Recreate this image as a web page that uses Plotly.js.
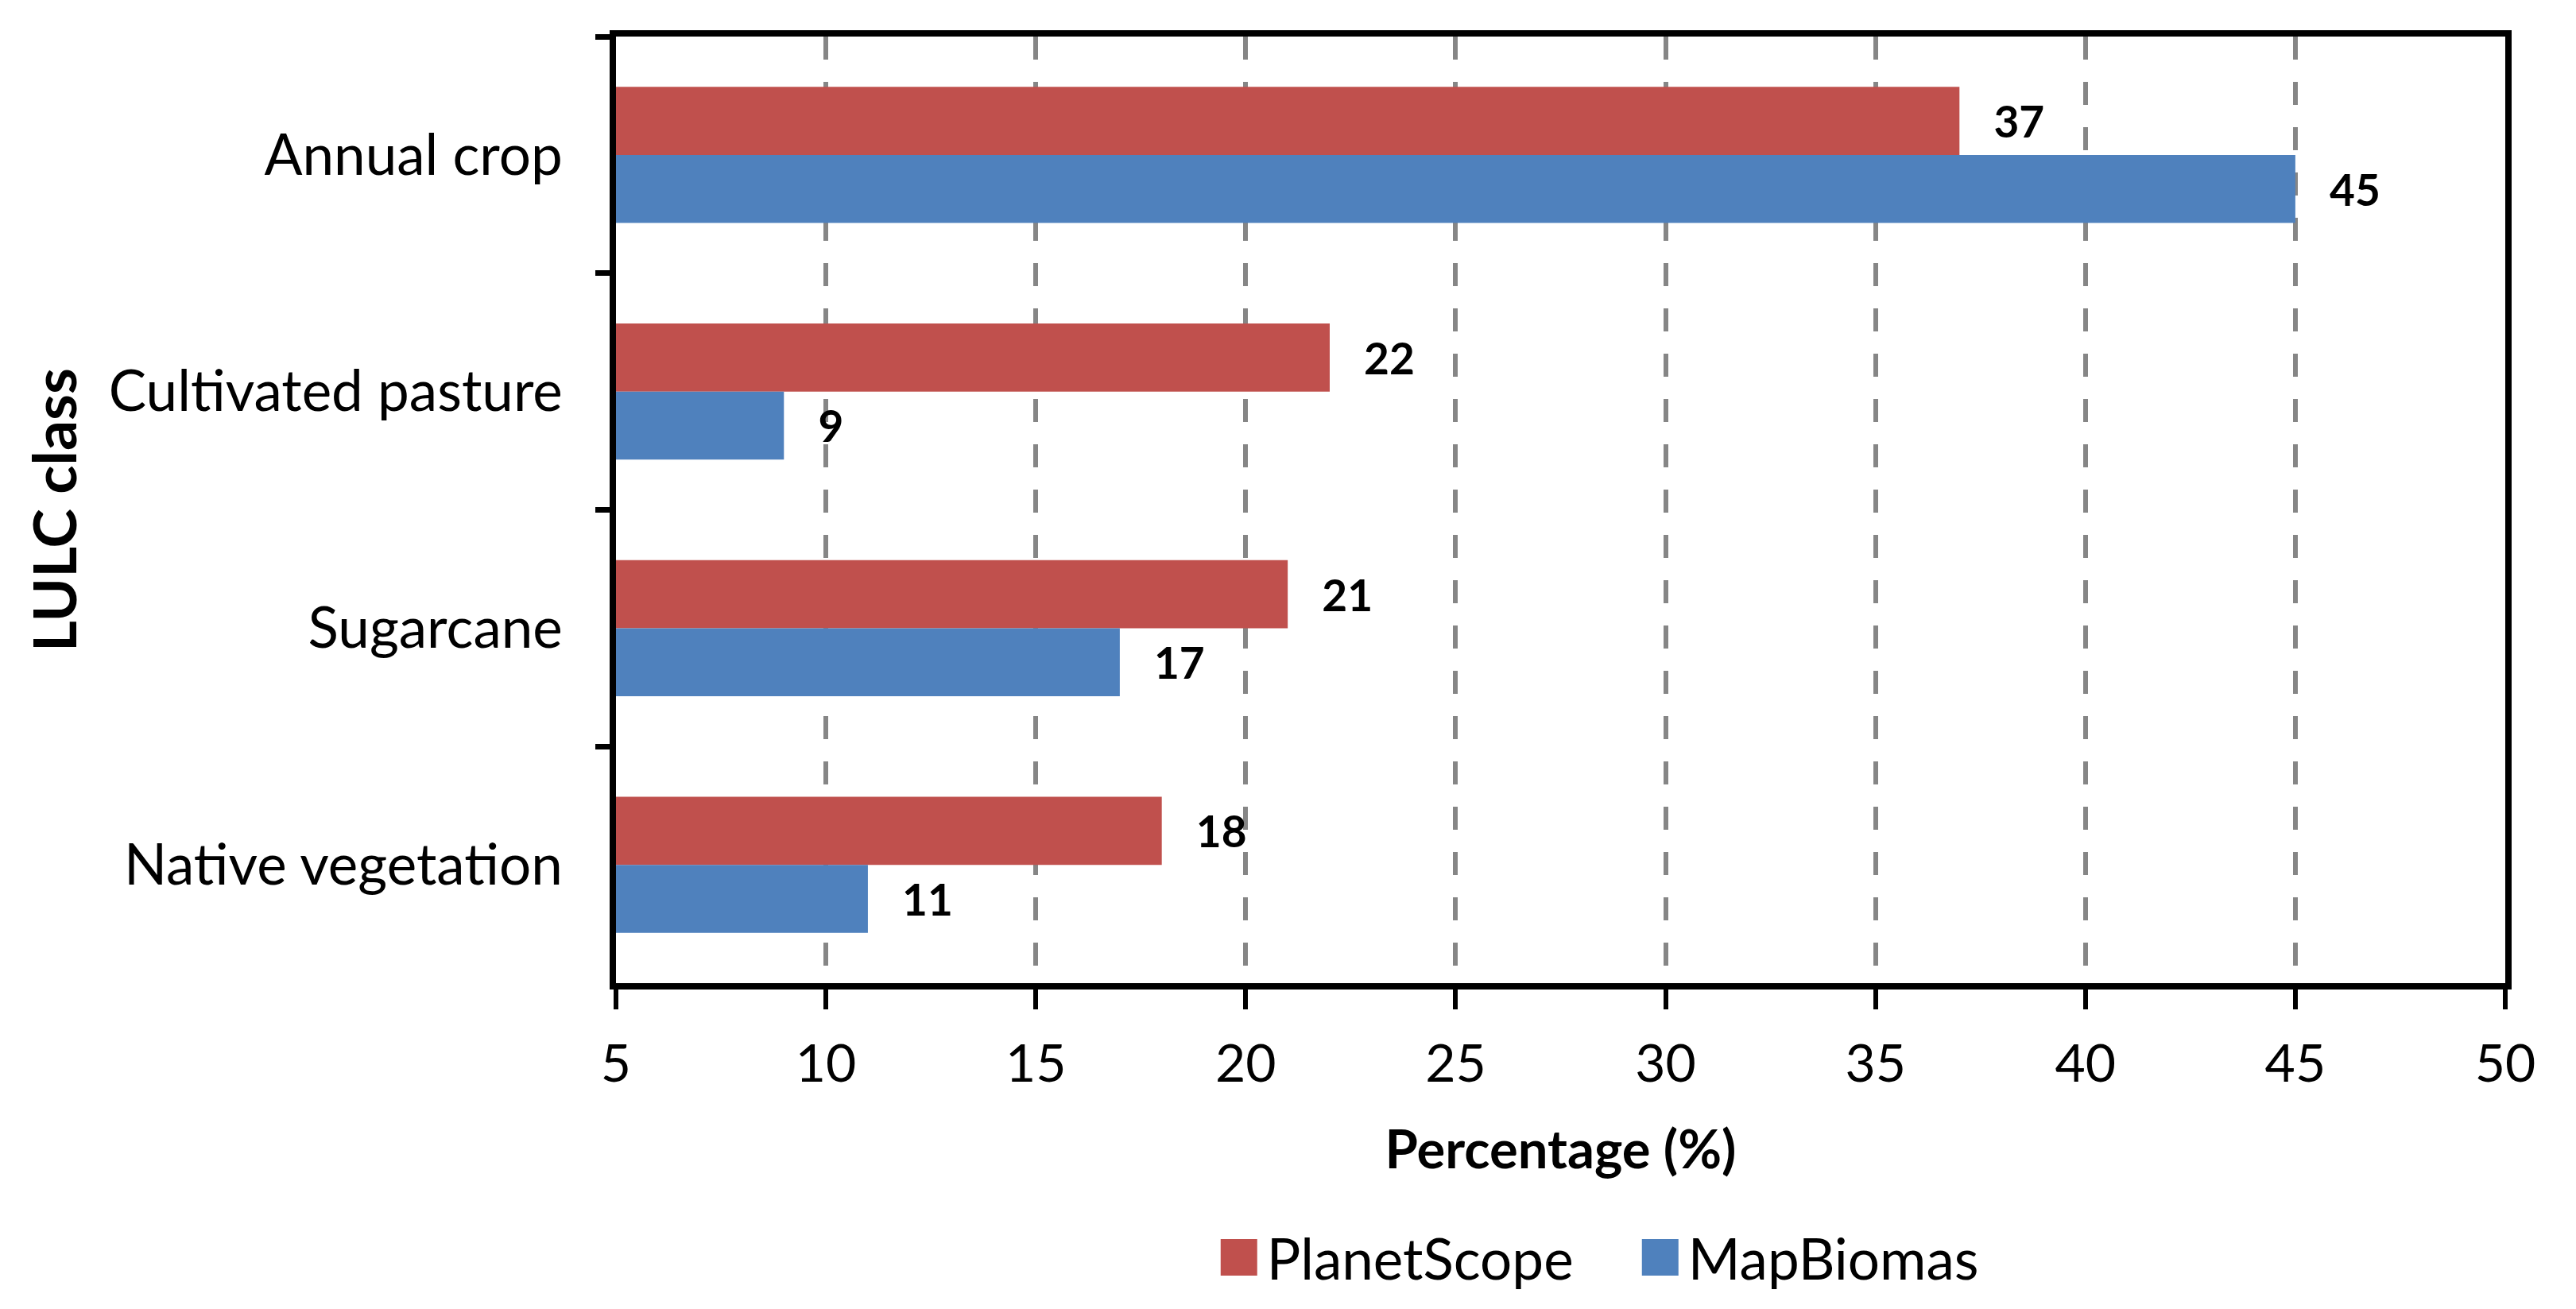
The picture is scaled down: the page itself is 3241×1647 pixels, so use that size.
<!DOCTYPE html>
<html>
<head>
<meta charset="utf-8">
<script src="https://cdn.plot.ly/plotly-3.0.1.min.js"></script>
<style>html,body{margin:0;padding:0;background:#fff;}#chart{width:3241px;height:1647px;}</style>
</head>
<body>
<div id="chart"></div>
<script>
// Data
var categories = ["Annual crop", "Cultivated pasture", "Sugarcane", "Native vegetation"];
var planetScope = [37, 22, 21, 18];
var mapBiomas = [45, 9, 17, 11];
var seriesNames = ["PlanetScope", "MapBiomas"];
var xTicks = [5, 10, 15, 20, 25, 30, 35, 40, 45, 50];

var FONT = "Lato, 'Open Sans', sans-serif";
var RED = "#C0504D", BLUE = "#4F81BD";
var PAD = "\u00a0\u00a0\u00a0";

var traces = [
  {
    type: "bar", orientation: "h", name: seriesNames[0],
    x: planetScope, y: categories,
    marker: {color: RED},
    text: planetScope.map(String), texttemplate: PAD + "%{text}",
    textposition: "outside", cliponaxis: false, constraintext: "none",
    textfont: {family: FONT, size: 55, color: "#000", weight: "bold"},
    hoverinfo: "skip"
  },
  {
    type: "bar", orientation: "h", name: seriesNames[1],
    x: mapBiomas, y: categories,
    marker: {color: BLUE},
    text: mapBiomas.map(String), texttemplate: PAD + "%{text}",
    textposition: "outside", cliponaxis: false, constraintext: "none",
    textfont: {family: FONT, size: 55, color: "#000", weight: "bold"},
    hoverinfo: "skip"
  }
];

var layout = {
  width: 3241, height: 1647,
  margin: {l: 775, r: 89, t: 46, b: 406, pad: 0},
  paper_bgcolor: "#fff", plot_bgcolor: "#fff",
  font: {family: FONT, color: "#000"},
  barmode: "group", bargap: 0.425, bargroupgap: 0,
  showlegend: true,
  legend: {
    orientation: "h", x: 0.315, xanchor: "left", y: -0.29, yanchor: "middle",
    font: {family: FONT, size: 71, color: "#000"},
    itemwidth: 60, traceorder: "normal", itemclick: false,
    entrywidth: 455, entrywidthmode: "pixels"
  },
  xaxis: {
    range: [5, 50], tickmode: "array", tickvals: xTicks, ticktext: xTicks.map(String),
    showline: true, linecolor: "#000", linewidth: 8, mirror: true,
    ticks: "outside", ticklen: 25, tickwidth: 6, tickcolor: "#000",
    ticklabelstandoff: 12,
    tickfont: {family: FONT, size: 66, color: "#000"},
    showgrid: true, gridcolor: "#868686", gridwidth: 6, griddash: "29px,28px",
    zeroline: false, fixedrange: true,
    title: {text: "Percentage (%)", font: {family: FONT, size: 67, color: "#000", weight: "bold"}, standoff: 52}
  },
  yaxis: {
    type: "category", autorange: "reversed",
    showline: true, linecolor: "#000", linewidth: 8, mirror: true,
    ticks: "outside", tickson: "boundaries", ticklen: 18, tickwidth: 7, tickcolor: "#000",
    ticklabelstandoff: 45,
    tickfont: {family: FONT, size: 71, color: "#000"},
    showgrid: false, zeroline: false, fixedrange: true,
    title: {text: "LULC class", font: {family: FONT, size: 75, color: "#000", weight: "bold"}, standoff: 18}
  }
};

Plotly.newPlot("chart", traces, layout, {displayModeBar: false, staticPlot: true}).then(function () {
  // enlarge legend swatches to match the reference
  document.querySelectorAll(".legend .legendpoints path").forEach(function (p) {
    p.setAttribute("d", "M23,23H-23V-23H23Z");
  });
});
</script>
</body>
</html>
